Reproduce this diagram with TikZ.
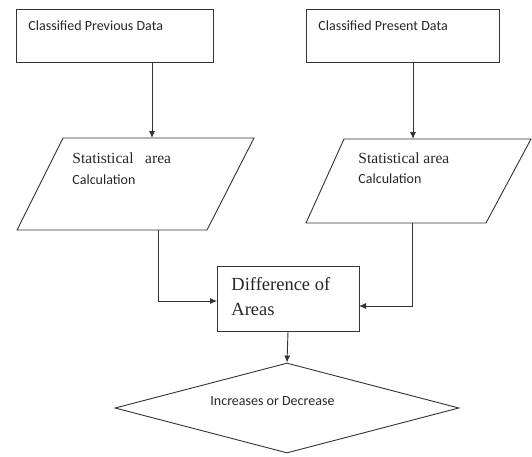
\documentclass[tikz,border=0pt]{standalone}
\usepackage{fontspec}
\setmainfont{Liberation Serif}
\newfontfamily\calib{Carlito}
\usetikzlibrary{positioning, shapes.geometric, arrows.meta}

\begin{document}
\begin{tikzpicture}[x=1pt, y=-1pt,
        line width=0.9pt,
        box/.style={rectangle, draw=black!80, inner sep=0pt},
        slant/.style={draw=black!80, line join=miter},
        dia/.style={diamond, draw=black!80, inner sep=0pt},
        lbl/.style={anchor=base west, inner sep=0pt, font=\calib\fontsize{14}{16}\selectfont, text=black!85},
        slbl/.style={anchor=base west, inner sep=0pt, font=\fontsize{15.5}{18}\selectfont, text=black!85},
        arr/.style={draw=black!80, -{Latex[length=7pt, width=6pt]}}]
      \useasboundingbox (0,0) rectangle (532,456);
      % shapes
      \node[box, minimum width=197pt, minimum height=53pt] (prev) at (114.5,35.5) {};
      \node[box, minimum width=193pt, minimum height=53pt] (pres) at (402.5,35.5) {};
      \node[box, minimum width=142pt, minimum height=65pt] (diff) at (288,298.5) {};
      \node[dia, minimum width=344pt, minimum height=90pt] (incr) at (287,408) {};
      % parallelograms
      \coordinate (statl) at (152,138);
      \coordinate (statr) at (413,139);
      \draw[slant] (63,138) -- (254,138) -- (207,230) -- (17,230) -- cycle;
      \draw[slant] (344,139) -- (531,139) -- (486,223) -- (306,223) -- cycle;
      % texts
      \node[lbl] (tprev) at (28,30) {Classified Previous Data};
      \node[lbl] (tpres) at (318,30) {Classified Present Data};
      \node[slbl] (tsl1) at (72,163) {Statistical \ \ area};
      \node[lbl] (tsl2) at (72,184) {Calculation};
      \node[slbl] (tsr1) at (358,163) {Statistical area};
      \node[lbl] (tsr2) at (358,183) {Calculation};
      \node[slbl, font=\fontsize{18.5}{21}\selectfont] (td1) at (231,290) {Difference of};
      \node[slbl, font=\fontsize{18.5}{21}\selectfont] (td2) at (231,315) {Areas};
      \node[lbl] (tinc) at (210,405) {Increases or Decrease};
      % connectors
      \coordinate (p1) at (152,62);
      \coordinate (p2) at (413,62);
      \coordinate (q1) at (158,230);
      \coordinate (q2) at (412,223);
      \coordinate (d1) at (217,301);
      \coordinate (d2) at (359,306);
      \draw[arr] (p1) -- (statl);
      \draw[arr] (p2) -- (statr);
      \draw[arr] (q1) |- (d1);
      \draw[arr] (q2) |- (d2);
      \draw[arr] (diff.south) -- (incr.north);
    \end{tikzpicture}
\end{document}
